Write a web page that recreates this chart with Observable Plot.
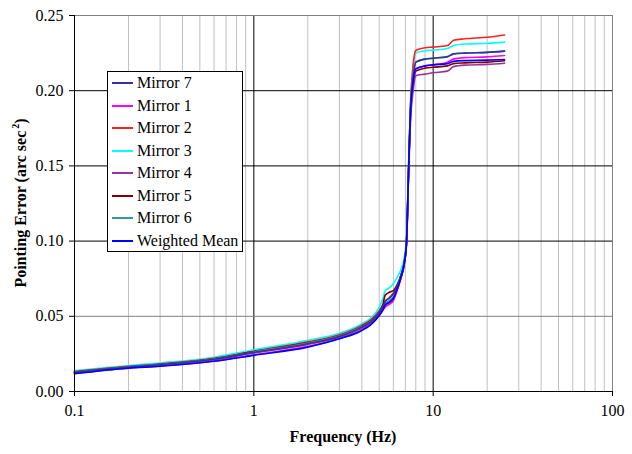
<!DOCTYPE html>
<html><head><meta charset="utf-8">
<script src="https://cdn.jsdelivr.net/npm/d3@7"></script>
<script src="https://cdn.jsdelivr.net/npm/@observablehq/plot@0.6"></script>
<style>
body{margin:0;background:#fff;}
#wrap{position:relative;width:632px;height:454px;font-family:"Liberation Serif","DejaVu Serif",serif;}
#legend{position:absolute;left:107px;top:71px;width:134px;height:179px;border:1px solid #000;background:#fff;}
.row{position:absolute;left:0;height:22px;font-size:16px;line-height:22px;}
.row .sw{position:absolute;left:4px;top:10px;width:21px;height:2px;}
.row .tx{position:absolute;left:29px;top:0;white-space:nowrap;}
</style>
</head><body><div id="wrap"><div id="legend"></div></div>
<script>
const freq = [0.1, 0.2, 0.3, 0.6, 1, 2, 3, 4, 4.5, 5, 5.25, 5.4, 5.7, 6, 6.3, 6.6, 6.9, 7.1, 7.3, 7.5, 7.7, 8, 9, 10, 12, 13, 15, 20, 25];
const mirror7 = [0.0126, 0.0162, 0.0178, 0.0214, 0.0260, 0.0318, 0.0366, 0.0428, 0.0465, 0.0525, 0.0565, 0.0600, 0.0620, 0.0650, 0.0700, 0.0765, 0.0855, 0.0990, 0.1490, 0.1920, 0.2070, 0.2190, 0.2210, 0.2216, 0.2225, 0.2245, 0.2250, 0.2255, 0.2263];
const mirror1 = [0.0120, 0.0157, 0.0170, 0.0203, 0.0244, 0.0300, 0.0352, 0.0410, 0.0448, 0.0505, 0.0540, 0.0560, 0.0580, 0.0605, 0.0670, 0.0750, 0.0845, 0.0980, 0.1470, 0.1880, 0.2040, 0.2145, 0.2165, 0.2172, 0.2190, 0.2210, 0.2220, 0.2225, 0.2234];
const mirror2 = [0.0132, 0.0167, 0.0183, 0.0220, 0.0268, 0.0330, 0.0378, 0.0440, 0.0478, 0.0535, 0.0575, 0.0600, 0.0625, 0.0655, 0.0700, 0.0770, 0.0860, 0.1000, 0.1500, 0.1950, 0.2150, 0.2267, 0.2285, 0.2290, 0.2300, 0.2335, 0.2345, 0.2355, 0.2370];
const mirror3 = [0.0138, 0.0173, 0.0190, 0.0228, 0.0277, 0.0340, 0.0388, 0.0450, 0.0490, 0.0560, 0.0620, 0.0670, 0.0690, 0.0716, 0.0760, 0.0810, 0.0890, 0.1020, 0.1520, 0.1940, 0.2130, 0.2250, 0.2265, 0.2270, 0.2280, 0.2300, 0.2310, 0.2315, 0.2323];
const mirror4 = [0.0124, 0.0160, 0.0176, 0.0211, 0.0256, 0.0313, 0.0360, 0.0420, 0.0458, 0.0515, 0.0550, 0.0570, 0.0590, 0.0615, 0.0680, 0.0755, 0.0850, 0.0980, 0.1460, 0.1830, 0.1980, 0.2100, 0.2110, 0.2119, 0.2130, 0.2160, 0.2170, 0.2175, 0.2183];
const mirror5 = [0.0130, 0.0165, 0.0181, 0.0218, 0.0265, 0.0325, 0.0372, 0.0435, 0.0472, 0.0530, 0.0580, 0.0640, 0.0660, 0.0670, 0.0710, 0.0770, 0.0860, 0.0990, 0.1480, 0.1880, 0.2020, 0.2130, 0.2150, 0.2156, 0.2165, 0.2180, 0.2185, 0.2190, 0.2199];
const mirror6 = [0.0128, 0.0164, 0.0180, 0.0216, 0.0263, 0.0322, 0.0370, 0.0432, 0.0468, 0.0525, 0.0560, 0.0585, 0.0605, 0.0630, 0.0690, 0.0765, 0.0858, 0.1000, 0.1500, 0.1930, 0.2080, 0.2190, 0.2210, 0.2216, 0.2228, 0.2245, 0.2250, 0.2255, 0.2263];
const weightedMean = [0.0118, 0.0155, 0.0168, 0.0201, 0.0240, 0.0295, 0.0350, 0.0406, 0.0445, 0.0505, 0.0545, 0.0575, 0.0595, 0.0620, 0.0680, 0.0755, 0.0850, 0.0985, 0.1480, 0.1890, 0.2040, 0.2145, 0.2165, 0.2172, 0.2180, 0.2195, 0.2200, 0.2203, 0.2207];

const seriesNames = ["Mirror 7", "Mirror 1", "Mirror 2", "Mirror 3", "Mirror 4", "Mirror 5", "Mirror 6", "Weighted Mean"];
const seriesValues = [mirror7, mirror1, mirror2, mirror3, mirror4, mirror5, mirror6, weightedMean];
const seriesColors = ["#333399", "#FF00FF", "#FF2020", "#00FFFF", "#993399", "#800000", "#339999", "#0000FF"];
const drawOrder = ["Mirror 3", "Mirror 2", "Mirror 5", "Mirror 1", "Mirror 4", "Mirror 6", "Mirror 7", "Weighted Mean"];

const xTicks = [0.1, 1, 10, 100];
const xTickLabels = ["0.1", "1", "10", "100"];
const xMinor = [0.2,0.3,0.4,0.5,0.6,0.7,0.8,0.9,2,3,4,5,6,7,8,9,20,30,40,50,60,70,80,90];
const yTicks = [0, 0.05, 0.10, 0.15, 0.20, 0.25];
const yTickLabels = ["0.00", "0.05", "0.10", "0.15", "0.20", "0.25"];
const xTitle = "Frequency (Hz)";
const yTitle = "Pointing Error (arc sec";
const yTitleSup = "2";

const rows = [];
drawOrder.forEach(name => {
  const i = seriesNames.indexOf(name);
  freq.forEach((f, j) => rows.push({f, v: seriesValues[i][j], s: name}));
});

const xLab = d => xTickLabels[xTicks.findIndex(t => Math.abs(t - d) < 1e-9)];
const yLab = d => yTickLabels[yTicks.findIndex(t => Math.abs(t - d) < 1e-9)];

const W = 632, H = 454, mL = 74, mR = 20, mT = 15, mB = 63;
const plot = Plot.plot({
  width: W, height: H, marginLeft: mL, marginRight: mR, marginTop: mT, marginBottom: mB,
  style: {fontFamily: '"Liberation Serif","DejaVu Serif",serif', fontSize: "16px", color: "#000", background: "#fff"},
  x: {type: "log", domain: [0.1, 100], label: null},
  y: {domain: [0, 0.25], label: null},
  color: {domain: seriesNames, range: seriesColors},
  marks: [
    Plot.ruleX(xMinor, {stroke: "#c0c0c0", strokeWidth: 1}),
    Plot.ruleX([1, 10], {stroke: "#000", strokeWidth: 1}),
    Plot.ruleX([100], {stroke: "#808080", strokeWidth: 1}),
    Plot.ruleY([0.05], {stroke: "#808080", strokeWidth: 1}),
    Plot.ruleY([0.10, 0.15, 0.20], {stroke: "#000", strokeWidth: 1}),
    Plot.ruleY([0.25], {stroke: "#808080", strokeWidth: 1}),
    Plot.line(rows, {x: "f", y: "v", z: "s", stroke: "s", strokeWidth: 1.6, curve: "monotone-x"}),
    Plot.ruleX([0.1], {stroke: "#000", strokeWidth: 1}),
    Plot.ruleY([0], {stroke: "#000", strokeWidth: 1}),
    Plot.axisX(xTicks, {tickSize: 5, tickPadding: 8, tickFormat: xLab, stroke: "#000", strokeOpacity: 1, label: null}),
    Plot.axisY(yTicks, {tickSize: 5, tickPadding: 6, tickFormat: yLab, stroke: "#000", strokeOpacity: 1, label: null})
  ]
});
document.getElementById("wrap").prepend(plot);

const svg = d3.select(plot);
svg.append("text")
  .attr("x", (mL + W - mR) / 2).attr("y", 442)
  .attr("text-anchor", "middle").attr("font-weight", "bold").attr("font-size", 16)
  .attr("fill", "#000").text(xTitle);
const yt = svg.append("text")
  .attr("transform", `translate(26,${(mT + H - mB) / 2}) rotate(-90)`)
  .attr("text-anchor", "middle").attr("font-weight", "bold").attr("font-size", 16).attr("fill", "#000");
yt.append("tspan").text(yTitle);
yt.append("tspan").attr("dy", -7).attr("dx", 2).attr("font-size", 10).text(yTitleSup);
yt.append("tspan").attr("dy", 7).text(")");

const legend = d3.select("#legend");
seriesNames.forEach((name, i) => {
  const r = legend.append("div").attr("class", "row").style("top", (0 + i * 22.5) + "px");
  r.append("div").attr("class", "sw").style("background", seriesColors[i]);
  r.append("div").attr("class", "tx").text(name);
});
</script>
</body></html>
